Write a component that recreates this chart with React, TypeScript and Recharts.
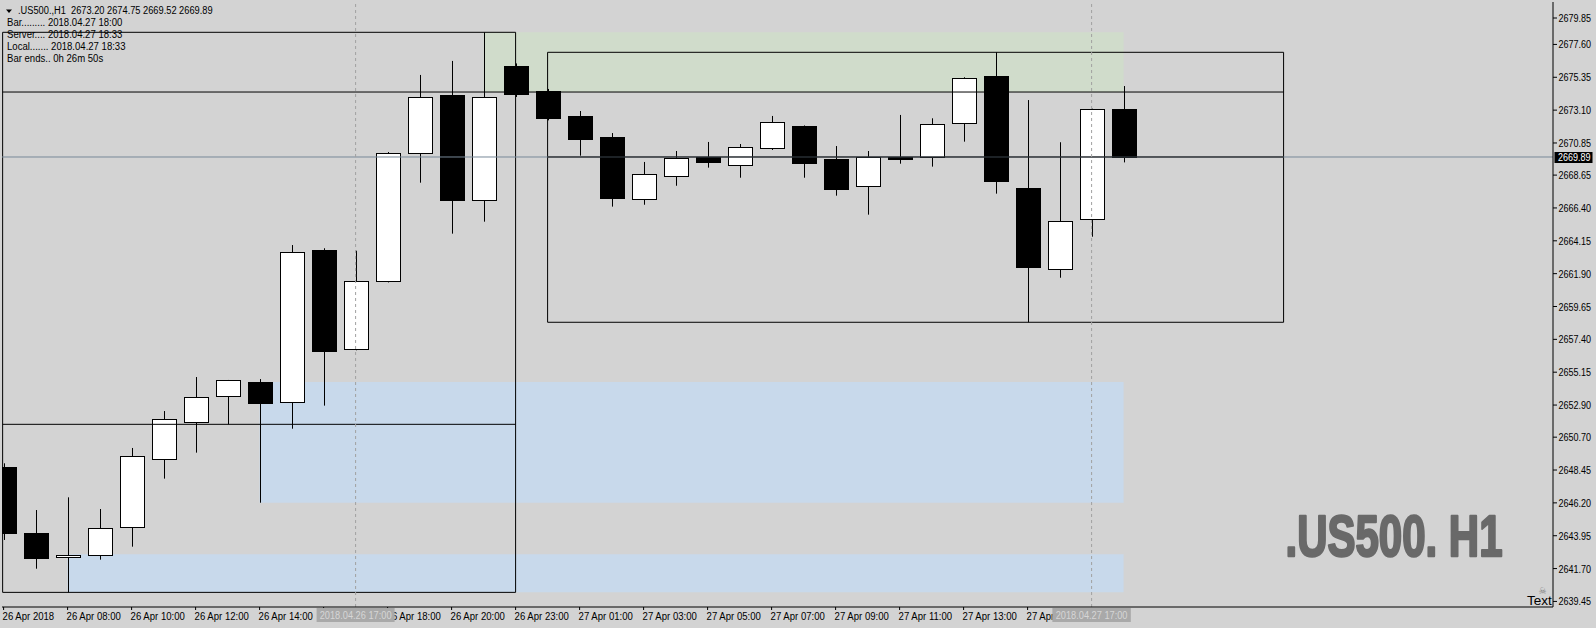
import React from "react";
import {
  ComposedChart,
  Bar,
  XAxis,
  YAxis,
  ReferenceArea,
  ReferenceLine,
} from "recharts";

// H1 bars, 26 Apr 2018 06:00 .. 27 Apr 2018 18:00 (no 22:00 bar)
const opens = [
  2648.64, 2644.12, 2642.49, 2642.58, 2644.53, 2649.18, 2651.72, 2653.5, 2654.46, 2653.09,
  2663.52, 2656.72, 2661.38, 2670.14, 2674.16, 2666.92, 2676.12, 2674.41, 2672.7, 2671.26,
  2666.99, 2668.57, 2669.87, 2669.29, 2670.49, 2672.01, 2669.75, 2667.88, 2669.87, 2669.87,
  2672.2, 2675.44, 2667.75, 2662.2, 2665.62, 2673.2,
];
const highs = [
  2648.91, 2645.71, 2646.58, 2645.78, 2649.96, 2652.49, 2654.82, 2654.62, 2654.68, 2663.86,
  2663.64, 2663.47, 2670.23, 2675.51, 2676.47, 2678.43, 2676.3, 2674.55, 2673.04, 2671.53,
  2669.55, 2670.3, 2670.92, 2670.78, 2672.7, 2672.05, 2670.64, 2670.3, 2672.77, 2672.54,
  2675.35, 2677.06, 2673.79, 2670.9, 2673.2, 2674.75,
];
const lows = [
  2643.66, 2641.69, 2640.07, 2642.31, 2643.2, 2647.86, 2649.64, 2651.58, 2646.21, 2651.28,
  2652.86, 2656.65, 2661.3, 2668.13, 2664.64, 2665.46, 2674.0, 2672.4, 2669.98, 2666.49,
  2666.62, 2667.92, 2669.16, 2668.47, 2670.37, 2668.47, 2667.24, 2665.94, 2669.43, 2669.23,
  2670.94, 2667.38, 2658.57, 2661.62, 2664.43, 2669.52,
];
const closes = [
  2644.09, 2642.38, 2642.63, 2644.46, 2649.39, 2651.92, 2653.43, 2654.6, 2652.99, 2663.36,
  2656.62, 2661.38, 2670.14, 2673.98, 2666.97, 2673.98, 2674.17, 2672.58, 2671.14, 2667.1,
  2668.71, 2669.82, 2669.5, 2670.55, 2672.27, 2669.5, 2667.72, 2669.87, 2669.71, 2672.13,
  2675.28, 2668.27, 2662.31, 2665.49, 2673.16, 2669.89,
];

// time labels on every second bar
const timeLabels = [
  "26 Apr 2018", "26 Apr 08:00", "26 Apr 10:00", "26 Apr 12:00", "26 Apr 14:00",
  "26 Apr 16:00", "26 Apr 18:00", "26 Apr 20:00", "26 Apr 23:00", "27 Apr 01:00",
  "27 Apr 03:00", "27 Apr 05:00", "27 Apr 07:00", "27 Apr 09:00", "27 Apr 11:00",
  "27 Apr 13:00", "27 Apr 15:00", "27 Apr 17:00",
];
const crossBars = [11, 34];
const crossLabels = ["2018.04.26 17:00", "2018.04.27 17:00"];

const priceTicks = [
  2679.85, 2677.6, 2675.35, 2673.1, 2670.85, 2668.65, 2666.4, 2664.15, 2661.9, 2659.65,
  2657.4, 2655.15, 2652.9, 2650.7, 2648.45, 2646.2, 2643.95, 2641.7, 2639.45,
];
const lastPrice = 2669.89;

const infoTitle = ".US500.,H1  2673.20 2674.75 2669.52 2669.89";
const infoLines = [
  "Bar......... 2018.04.27 18:00",
  "Server.... 2018.04.27 18:33",
  "Local....... 2018.04.27 18:33",
  "Bar ends.. 0h 26m 50s",
];

const data = opens.map((o, i) => ({ i, o, h: highs[i], l: lows[i], c: closes[i] }));
const labelBars = timeLabels.map((_, k) => k * 2);
const xTicks = [...labelBars, ...crossBars];

const FONT = "'Liberation Sans', Arial, sans-serif";
const BG = "#d3d3d3";

// narrow text: Liberation Sans squeezed horizontally (no Tahoma here)
function NText({ x, y, sx = 0.85, size = 11, fill = "#000", anchor = "start", children }: any) {
  return (
    <text
      transform={`translate(${x},${y}) scale(${sx},1)`}
      fontSize={size}
      fontFamily={FONT}
      fill={fill}
      textAnchor={anchor}
      style={{ whiteSpace: "pre" }}
    >
      {children}
    </text>
  );
}

function Candle(props: any) {
  const { x, y, width, height, payload } = props;
  if (x == null || !payload) return null;
  const cx = Math.round(x + width / 2) + 0.5;
  const top = Math.min(y, y + height);
  const h = Math.abs(height);
  const { o, c, h: hi, l: lo } = payload;
  const py = (v: number) => top + ((hi - v) / (hi - lo)) * h;
  const bTop = py(Math.max(o, c));
  const bBot = py(Math.min(o, c));
  const bull = c >= o;
  return (
    <g>
      <line x1={cx} x2={cx} y1={top} y2={top + h} stroke="#000" />
      <rect
        x={cx - 12}
        y={Math.round(bTop) + 0.5}
        width={24}
        height={Math.max(1, Math.round(bBot - bTop))}
        fill={bull ? "#fff" : "#000"}
        stroke="#000"
      />
    </g>
  );
}

function XTick(props: any) {
  const { x, y, payload } = props;
  const v = payload.value;
  const ci = crossBars.indexOf(v);
  if (ci >= 0) {
    return (
      <g>
        <rect x={x - 39} y={y + 1} width={78} height={14} fill="#a9a9a9" />
        <NText x={x} y={y + 12} anchor="middle" fill="#d6d6d6" sx={0.84}>
          {crossLabels[ci]}
        </NText>
      </g>
    );
  }
  const label = timeLabels[labelBars.indexOf(v)] ?? "";
  return (
    <g>
      <line x1={x} x2={x} y1={y} y2={y + 3} stroke="#000" />
      <NText x={x - 1} y={y + 12.5} sx={0.87}>
        {label}
      </NText>
    </g>
  );
}

function YTick(props: any) {
  const { x, y, payload } = props;
  const yy = Math.max(y, 18);
  return (
    <g>
      <line x1={x} x2={x + 4} y1={yy} y2={yy} stroke="#000" />
      <NText x={x + 5.5} y={yy + 4} sx={0.82}>
        {Number(payload.value).toFixed(2)}
      </NText>
    </g>
  );
}

function PriceBox(props: any) {
  const { viewBox } = props;
  if (!viewBox) return null;
  const x = viewBox.x + viewBox.width;
  const y = viewBox.y;
  return (
    <g>
      <rect x={x + 1.5} y={y - 5} width={38} height={11} fill="#000" />
      <NText x={x + 5} y={y + 4} fill="#fff" sx={0.82}>
        {lastPrice.toFixed(2)}
      </NText>
    </g>
  );
}

export default function App() {
  return (
    <div style={{ position: "absolute", left: 0, top: 0, width: 1596, height: 628, background: BG }}>
      <ComposedChart
        width={1596}
        height={628}
        data={data}
        margin={{ top: 2, right: 0, bottom: 0, left: 2 }}
      >
        <XAxis
          dataKey="i"
          type="number"
          domain={[-0.05, 48.419]}
          allowDataOverflow
          ticks={xTicks}
          interval={0}
          tick={<XTick />}
          tickLine={false}
          tickSize={0}
          tickMargin={0}
          axisLine={{ stroke: "#000" }}
          height={21}
        />
        <YAxis
          orientation="right"
          type="number"
          domain={[2639.068, 2680.506]}
          allowDataOverflow
          ticks={priceTicks}
          interval={0}
          tick={<YTick />}
          tickLine={false}
          tickSize={0}
          tickMargin={0}
          axisLine={{ stroke: "#000" }}
          width={43}
        />

        {/* supply / demand zones */}
        <ReferenceArea x1={15} x2={35} y1={2674.34} y2={2678.43} fill="#d0dccb" fillOpacity={1} stroke="none" />
        <ReferenceArea x1={8} x2={35} y1={2646.21} y2={2654.48} fill="#c8d9eb" fillOpacity={1} stroke="none" />
        <ReferenceArea x1={2} x2={35} y1={2640.07} y2={2642.68} fill="#c8d9eb" fillOpacity={1} stroke="none" />

        <Bar dataKey={(d: any) => [d.l, d.h]} shape={<Candle />} barSize={24} isAnimationActive={false} />

        <ReferenceLine y={lastPrice} stroke="#778899" label={<PriceBox />} />

        {/* range boxes */}
        <ReferenceArea x1={-0.03} x2={16} y1={2640.07} y2={2678.43} fill="none" stroke="#000" strokeWidth={1} />
        <ReferenceLine segment={[{ x: -0.03, y: 2651.58 }, { x: 16, y: 2651.58 }]} stroke="#000" />
        <ReferenceLine segment={[{ x: -0.03, y: 2674.34 }, { x: 40, y: 2674.34 }]} stroke="#000" />
        <ReferenceArea x1={17} x2={40} y1={2658.57} y2={2677.06} fill="none" stroke="#000" strokeWidth={1} />
        <ReferenceLine segment={[{ x: 17, y: lastPrice }, { x: 40, y: lastPrice }]} stroke="#000" />

        {crossBars.map((b) => (
          <ReferenceLine key={b} x={b} stroke="#a0a0a0" strokeDasharray="3 3" />
        ))}
      </ComposedChart>

      <svg
        width={1596}
        height={628}
        style={{ position: "absolute", left: 0, top: 0, pointerEvents: "none" }}
      >
        <polygon points="6,9.5 12,9.5 9,13" fill="#000" />
        <NText x={18} y={14} sx={0.843}>
          {infoTitle}
        </NText>
        {infoLines.map((t, k) => (
          <NText key={k} x={7} y={26 + k * 12} sx={0.87}>
            {t}
          </NText>
        ))}
        <text
          x={1285.5}
          y={556}
          fontSize={58}
          fontWeight="bold"
          fontFamily={FONT}
          fill="#696969"
          stroke="#696969"
          strokeWidth={2.5}
          strokeLinejoin="round"
          textLength={217}
          lengthAdjust="spacingAndGlyphs"
        >
          .US500. H1
        </text>
        <text x={1538.5} y={594} fontSize={9} fontFamily="'DejaVu Sans', sans-serif" fill="#808080">
          ☠
        </text>
        <text x={1527} y={605} fontSize={13.5} fontFamily={FONT} fill="#000">
          Text
        </text>
      </svg>
    </div>
  );
}
